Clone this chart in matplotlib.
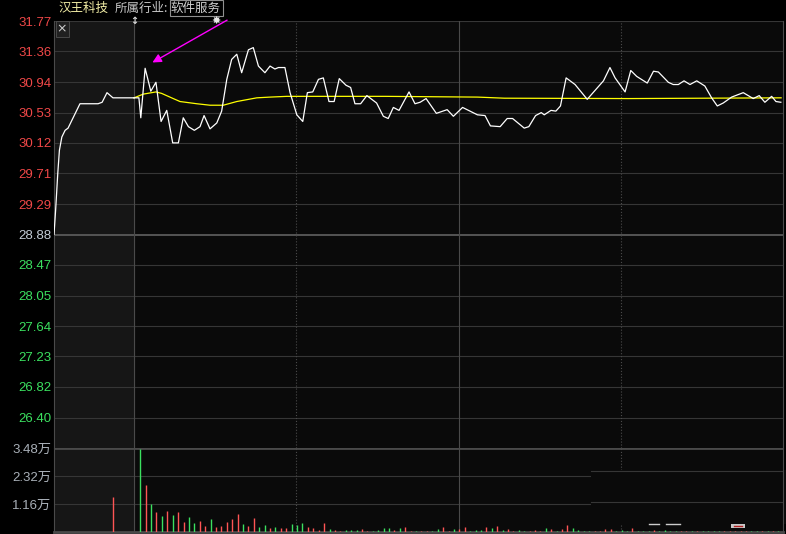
import numpy as np
import matplotlib.pyplot as plt
from matplotlib.patches import Rectangle

plt.rcParams['font.family'] = ['Liberation Sans', 'Noto Sans CJK SC', 'DejaVu Sans']

# call auction part (minutes before 9:30, shaded area)
pre_t = [-29.6, -29.0, -28.2, -27.6, -26.7, -25.5, -24.4, -20.0, -13.3, -11.8, -10.0, -7.8, 0]
pre_p = [28.88, 29.21, 29.71, 30.02, 30.20, 30.29, 30.32, 30.65, 30.65, 30.67, 30.80, 30.73, 30.73]

# session price (minutes after open)
t = [0, 1.8, 2.5, 4.1, 6.2, 8.1, 10.0, 12.1, 14.3, 16.4, 18.2, 20.1, 22.3, 24.4, 25.9, 28.1, 30.6,
     32.4, 34.3, 36.1, 38.0, 39.8, 42.3, 44.1, 46.0, 48.4, 50.3, 52.1, 53.4, 55.8, 57.7, 60.2, 62.4,
     64.1, 66.1, 68.2, 70.0, 72.1, 74.0, 75.9, 78.4, 80.1, 81.7, 83.8, 86.1, 89.7, 92.2, 94.0, 95.9,
     98.0, 101.7, 103.9, 105.8, 108.0, 111.8, 115.8, 118.1, 121.5, 127.0, 129.8, 131.8, 135.4, 138.0,
     140.0, 144.3, 146.0, 148.5, 150.6, 151.7, 154.2, 156.0, 157.7, 159.8, 163.1, 167.6, 173.6, 176.0,
     177.9, 181.6, 183.7, 185.9, 189.8, 192.1, 193.9, 197.6, 199.4, 201.3, 203.4, 205.6, 208.1, 211.1,
     213.6, 215.7, 217.9, 221.0, 225.3, 229.0, 231.2, 233.3, 235.8, 237.4, 239.2]
price = [30.73, 30.73, 30.46, 31.13, 30.82, 30.94, 30.41, 30.56, 30.12, 30.12, 30.46, 30.34, 30.29,
         30.34, 30.49, 30.31, 30.39, 30.55, 30.98, 31.25, 31.32, 31.07, 31.38, 31.41, 31.16, 31.07,
         31.16, 31.12, 31.14, 31.14, 30.80, 30.50, 30.41, 30.80, 30.81, 30.98, 31.00, 30.68, 30.68,
         30.99, 30.90, 30.87, 30.65, 30.65, 30.76, 30.66, 30.48, 30.45, 30.60, 30.56, 30.81, 30.65,
         30.67, 30.72, 30.52, 30.57, 30.48, 30.60, 30.50, 30.49, 30.35, 30.34, 30.45, 30.45, 30.32,
         30.34, 30.49, 30.53, 30.50, 30.56, 30.55, 30.62, 31.00, 30.91, 30.71, 30.96, 31.14, 31.00,
         30.81, 31.10, 31.02, 30.93, 31.09, 31.08, 30.94, 30.91, 30.91, 30.96, 30.91, 30.96, 30.89,
         30.73, 30.62, 30.66, 30.74, 30.80, 30.72, 30.76, 30.67, 30.75, 30.68, 30.67]

# average price line
avg_t = [0, 3.4, 8.1, 10.2, 14.5, 17, 23.2, 28.1, 33, 38, 45.4, 50.3, 56.5, 93, 127, 137, 183, 239.3]
avg_p = [30.73, 30.78, 30.81, 30.79, 30.72, 30.68, 30.65, 30.63, 30.63, 30.68, 30.73, 30.74,
         30.75, 30.75, 30.74, 30.725, 30.72, 30.73]

# volume, in 万 (one bar every 2 minutes)
pre_vol = 1.46
vol = [3.44, 1.95, 1.15, 0.82, 0.65, 0.86, 0.69, 0.82, 0.41, 0.61,
       0.37, 0.45, 0.24, 0.53, 0.20, 0.24, 0.40, 0.53, 0.74, 0.32,
       0.24, 0.56, 0.22, 0.31, 0.18, 0.22, 0.18, 0.18, 0.35, 0.28,
       0.39, 0.22, 0.18, 0.10, 0.39, 0.14, 0.10, 0.06, 0.10, 0.10,
       0.10, 0.14, 0.06, 0.06, 0.10, 0.18, 0.18, 0.10, 0.18, 0.22,
       0.06, 0.06, 0.06, 0.06, 0.06, 0.14, 0.22, 0.06, 0.14, 0.14,
       0.22, 0.06, 0.10, 0.10, 0.20, 0.16, 0.24, 0.07, 0.12, 0.04,
       0.07, 0.04, 0.04, 0.07, 0.04, 0.16, 0.12, 0.04, 0.12, 0.30,
       0.16, 0.07, 0.04, 0.04, 0.04, 0.04, 0.12, 0.12, 0.04, 0.07,
       0.04, 0.16, 0.04, 0.04, 0.04, 0.07, 0.04, 0.07, 0.04, 0.04,
       0.04, 0.04, 0.04, 0.04, 0.04, 0.04, 0.04, 0.04, 0.04, 0.04,
       0.04, 0.04, 0.04, 0.04, 0.04, 0.04, 0.04, 0.04, 0.04, 0.07]
vol_dir = ("GRGRGRGRRG" "GRRGRRRRRG" "RRGGRGRRGG" "GRRRRGRRGG" "GRRGGGGRGR" "RGRRGGRRGR"
           "RGGGRGRGRR" "GGRRRGRGRR" "GGGGRRRRGG" "GRGGGRGGGG" "RRGRGGGGRR" "RRRGGRGRGG")

prev_close = 28.88
price_ticks = ['31.77', '31.36', '30.94', '30.53', '30.12', '29.71', '29.29',
               '28.88', '28.47', '28.05', '27.64', '27.23', '26.82', '26.40']
vol_ticks = [1.16, 2.32, 3.48]

RED = '#ff5555'
GREEN = '#3be05f'
GRID = '#363636'

W, H = 786, 534
fig = plt.figure(figsize=(W / 100, H / 100), dpi=100, facecolor='black')

def box(l, t_, r, b):
    return [l / W, 1 - b / H, (r - l) / W, (b - t_) / H]

ax = fig.add_axes(box(54, 21, 783, 448))
axv = fig.add_axes(box(54, 448, 783, 532))

# ---- price panel
ax.set_facecolor('#0a0a0a')
ax.axvspan(-29.6, 0, color='#161616', zorder=0)
for s in price_ticks:
    v = float(s)
    ax.axhline(v, color='#555555' if s == '28.88' else GRID, lw=1.4 if s == '28.88' else 0.8, zorder=1)
for x, ls in [(0, '-'), (60, ':'), (120, '-'), (180, ':')]:
    ax.axvline(x, color='#4a4a4a', lw=0.8, ls=ls, zorder=1)

ax.plot(pre_t, pre_p, color='white', lw=0.9, zorder=3)
ax.plot(t, price, color='white', lw=0.9, zorder=3)
ax.plot(avg_t, avg_p, color='#ffff00', lw=0.9, zorder=2)

ax.set_xlim(-29.6, 240)
ax.set_ylim(2 * prev_close - 31.77, 31.77)
ax.set_xticks([])
ax.set_yticks([float(s) for s in price_ticks])
ax.set_yticklabels(price_ticks, fontsize=9.5)
for lab, s in zip(ax.get_yticklabels(), price_ticks):
    v = float(s)
    lab.set_color('#f04848' if v > prev_close else ('#c3ccd6' if v == prev_close else GREEN))
ax.tick_params(axis='y', length=0, pad=2)
for side in ['top', 'bottom']:
    ax.spines[side].set_visible(False)
for side in ['left', 'right']:
    ax.spines[side].set_color('#4a4a4a')

ax.annotate('', xy=(5.9, 31.19), xytext=(35.3, 31.80), annotation_clip=False,
            arrowprops=dict(arrowstyle='-|>', color='#ff00ff', lw=1, mutation_scale=13))

# ---- volume panel
axv.set_facecolor('#0a0a0a')
axv.axvspan(-29.6, 0, color='#161616', zorder=0)
for v in vol_ticks:
    axv.axhline(v, color='#4a4a4a' if v == 3.48 else GRID, lw=2 if v == 3.48 else 0.8, zorder=1)
for x, ls in [(0, '-'), (60, ':'), (120, '-'), (180, ':')]:
    axv.axvline(x, color='#4a4a4a', lw=0.8, ls=ls, zorder=1)

vol_t = np.arange(len(vol)) * 2 + 2.3
colors = [RED if d == 'R' else GREEN for d in vol_dir]
axv.vlines(vol_t, 0, vol, colors=colors, lw=1.0, zorder=4)
axv.vlines([-7.7], 0, [pre_vol], colors=[RED], lw=1.0, zorder=4)

# leftover tooltip box in the lower right
axv.add_patch(Rectangle((0.7366, 0.095), 0.27, 0.643, transform=axv.transAxes,
                        facecolor='#0a0a0a', edgecolor='none', zorder=2, clip_on=False))
for yy in [0.7226, 0.3536]:
    axv.plot([0.7366, 1.0], [yy, yy], transform=axv.transAxes, color=GRID, lw=0.8, zorder=3)
for x0, x1 in [(0.816, 0.830), (0.840, 0.859)]:
    axv.plot([x0, x1], [0.092, 0.092], transform=axv.transAxes, color='#cccccc', lw=1, zorder=3)
axv.add_patch(Rectangle((0.929, 0.048), 0.019, 0.047, transform=axv.transAxes,
                        facecolor='#c8c8c8', edgecolor='none', zorder=5))
axv.plot([0.933, 0.944], [0.075, 0.075], transform=axv.transAxes, color='#b02020', lw=1, zorder=6)

axv.set_xlim(-29.6, 240)
axv.set_ylim(0, 3.48)
axv.set_xticks([])
axv.set_yticks(vol_ticks)
axv.set_yticklabels([f'{v:.2f}万' for v in vol_ticks], fontsize=9.5, color='#a9b0b8')
axv.tick_params(axis='y', length=0, pad=2)
axv.spines['top'].set_visible(False)
axv.spines['bottom'].set_color('#4a4a4a')
axv.spines['bottom'].set_linewidth(2)
for side in ['left', 'right']:
    axv.spines[side].set_color('#4a4a4a')

# ---- header
cjk = ['Noto Sans CJK SC', 'DejaVu Sans']
fig.text(58 / W, 1 - 8 / H, '汉王科技', color='#f3eea6', fontsize=9, va='center', family=cjk)
fig.text(115 / W, 1 - 8 / H, '所属行业:', color='#c8c8c8', fontsize=9, va='center', family=cjk)
fig.text(171 / W, 1 - 8 / H, '软件服务', color='#d0d0d0', fontsize=9, va='center', family=cjk,
         bbox=dict(boxstyle='square,pad=0.12', facecolor='black', edgecolor='#909090', lw=0.8))
fig.text(62 / W, 1 - 29 / H, '×', color='#d0d0d0', fontsize=9, ha='center', va='center',
         family='DejaVu Sans',
         bbox=dict(boxstyle='square,pad=0.1', facecolor='#202020', edgecolor='#505050', lw=0.6))
fig.text(134 / W, 1 - 21 / H, '↕', color='#d8d8d8', fontsize=7, ha='center', va='center',
         family='DejaVu Sans', fontweight='bold')
fig.text(216 / W, 1 - 21 / H, '✸', color='#e8e8e8', fontsize=8, ha='center', va='center',
         family='DejaVu Sans')

fig.savefig('out.png', dpi=100, facecolor='black')
